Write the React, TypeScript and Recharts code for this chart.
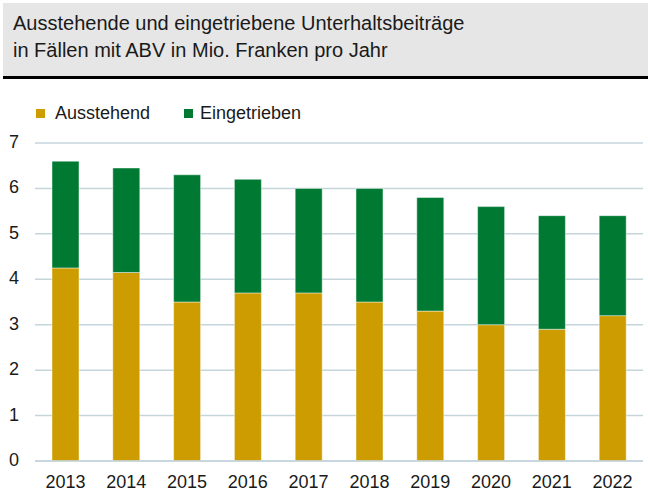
import { BarChart, Bar, XAxis, YAxis, CartesianGrid } from 'recharts';

const years = ['2013', '2014', '2015', '2016', '2017', '2018', '2019', '2020', '2021', '2022'];
const ausstehend = [4.25, 4.15, 3.5, 3.7, 3.7, 3.5, 3.3, 3.0, 2.9, 3.2];
const eingetrieben = [2.35, 2.3, 2.8, 2.5, 2.3, 2.5, 2.5, 2.6, 2.5, 2.2];
const yTicks = [0, 1, 2, 3, 4, 5, 6, 7];

const GOLD = '#cc9c00';
const GREEN = '#007a33';
const TEXT = '#1a1a1a';
const FONT = '"Liberation Sans", Arial, sans-serif';

const data = years.map((year, i) => ({
  year,
  ausstehend: ausstehend[i],
  eingetrieben: eingetrieben[i],
}));

const YTick = ({ y, payload }: any) => (
  <text x={14} y={y} dy={5} textAnchor="middle" fontSize={18} fill={TEXT} fontFamily={FONT}>
    {payload.value}
  </text>
);

export default function App() {
  return (
    <div style={{ position: 'absolute', left: 0, top: 0, width: 648, height: 493, background: '#fff' }}>
      <div
        style={{
          position: 'absolute',
          left: 3,
          top: 3,
          width: 645,
          height: 73,
          background: '#e6e6e6',
          borderBottom: '3px solid #000',
          fontFamily: FONT,
          fontSize: 20,
          lineHeight: '27px',
          color: TEXT,
        }}
      >
        <div style={{ position: 'absolute', left: 10, top: 7 }}>
          Ausstehende und eingetriebene Unterhaltsbeiträge
          <br />
          in Fällen mit ABV in Mio. Franken pro Jahr
        </div>
      </div>

      {/* legend */}
      <div
        style={{
          position: 'absolute',
          top: 102,
          left: 36,
          display: 'flex',
          fontFamily: FONT,
          fontSize: 18,
          lineHeight: '22px',
          color: TEXT,
        }}
      >
        <div style={{ display: 'flex', alignItems: 'center', width: 148 }}>
          <span style={{ width: 9, height: 9, background: GOLD, marginRight: 10 }} />
          Ausstehend
        </div>
        <div style={{ display: 'flex', alignItems: 'center' }}>
          <span style={{ width: 9, height: 9, background: GREEN, marginRight: 7 }} />
          Eingetrieben
        </div>
      </div>

      <div style={{ position: 'absolute', left: 0, top: 0 }}>
        <BarChart width={648} height={493} data={data} margin={{ top: 143, right: 5, bottom: 2, left: 0 }}>
          <CartesianGrid vertical={false} stroke="#c5d5dc" strokeWidth={1.5} />
          <XAxis
            dataKey="year"
            axisLine={{ stroke: '#c5d5dc', strokeWidth: 1.5 }}
            tickLine={false}
            tick={{ fontSize: 18, fill: TEXT, fontFamily: FONT }}
            tickMargin={8}
          />
          <YAxis
            width={35}
            domain={[0, 7]}
            ticks={yTicks}
            axisLine={false}
            tickLine={false}
            tick={<YTick />}
          />
          <Bar dataKey="ausstehend" stackId="a" fill={GOLD} barSize={27} stroke="rgba(255,255,255,0.45)" strokeWidth={1} isAnimationActive={false} />
          <Bar dataKey="eingetrieben" stackId="a" fill={GREEN} barSize={27} stroke="rgba(255,255,255,0.45)" strokeWidth={1} isAnimationActive={false} />
        </BarChart>
      </div>
    </div>
  );
}
